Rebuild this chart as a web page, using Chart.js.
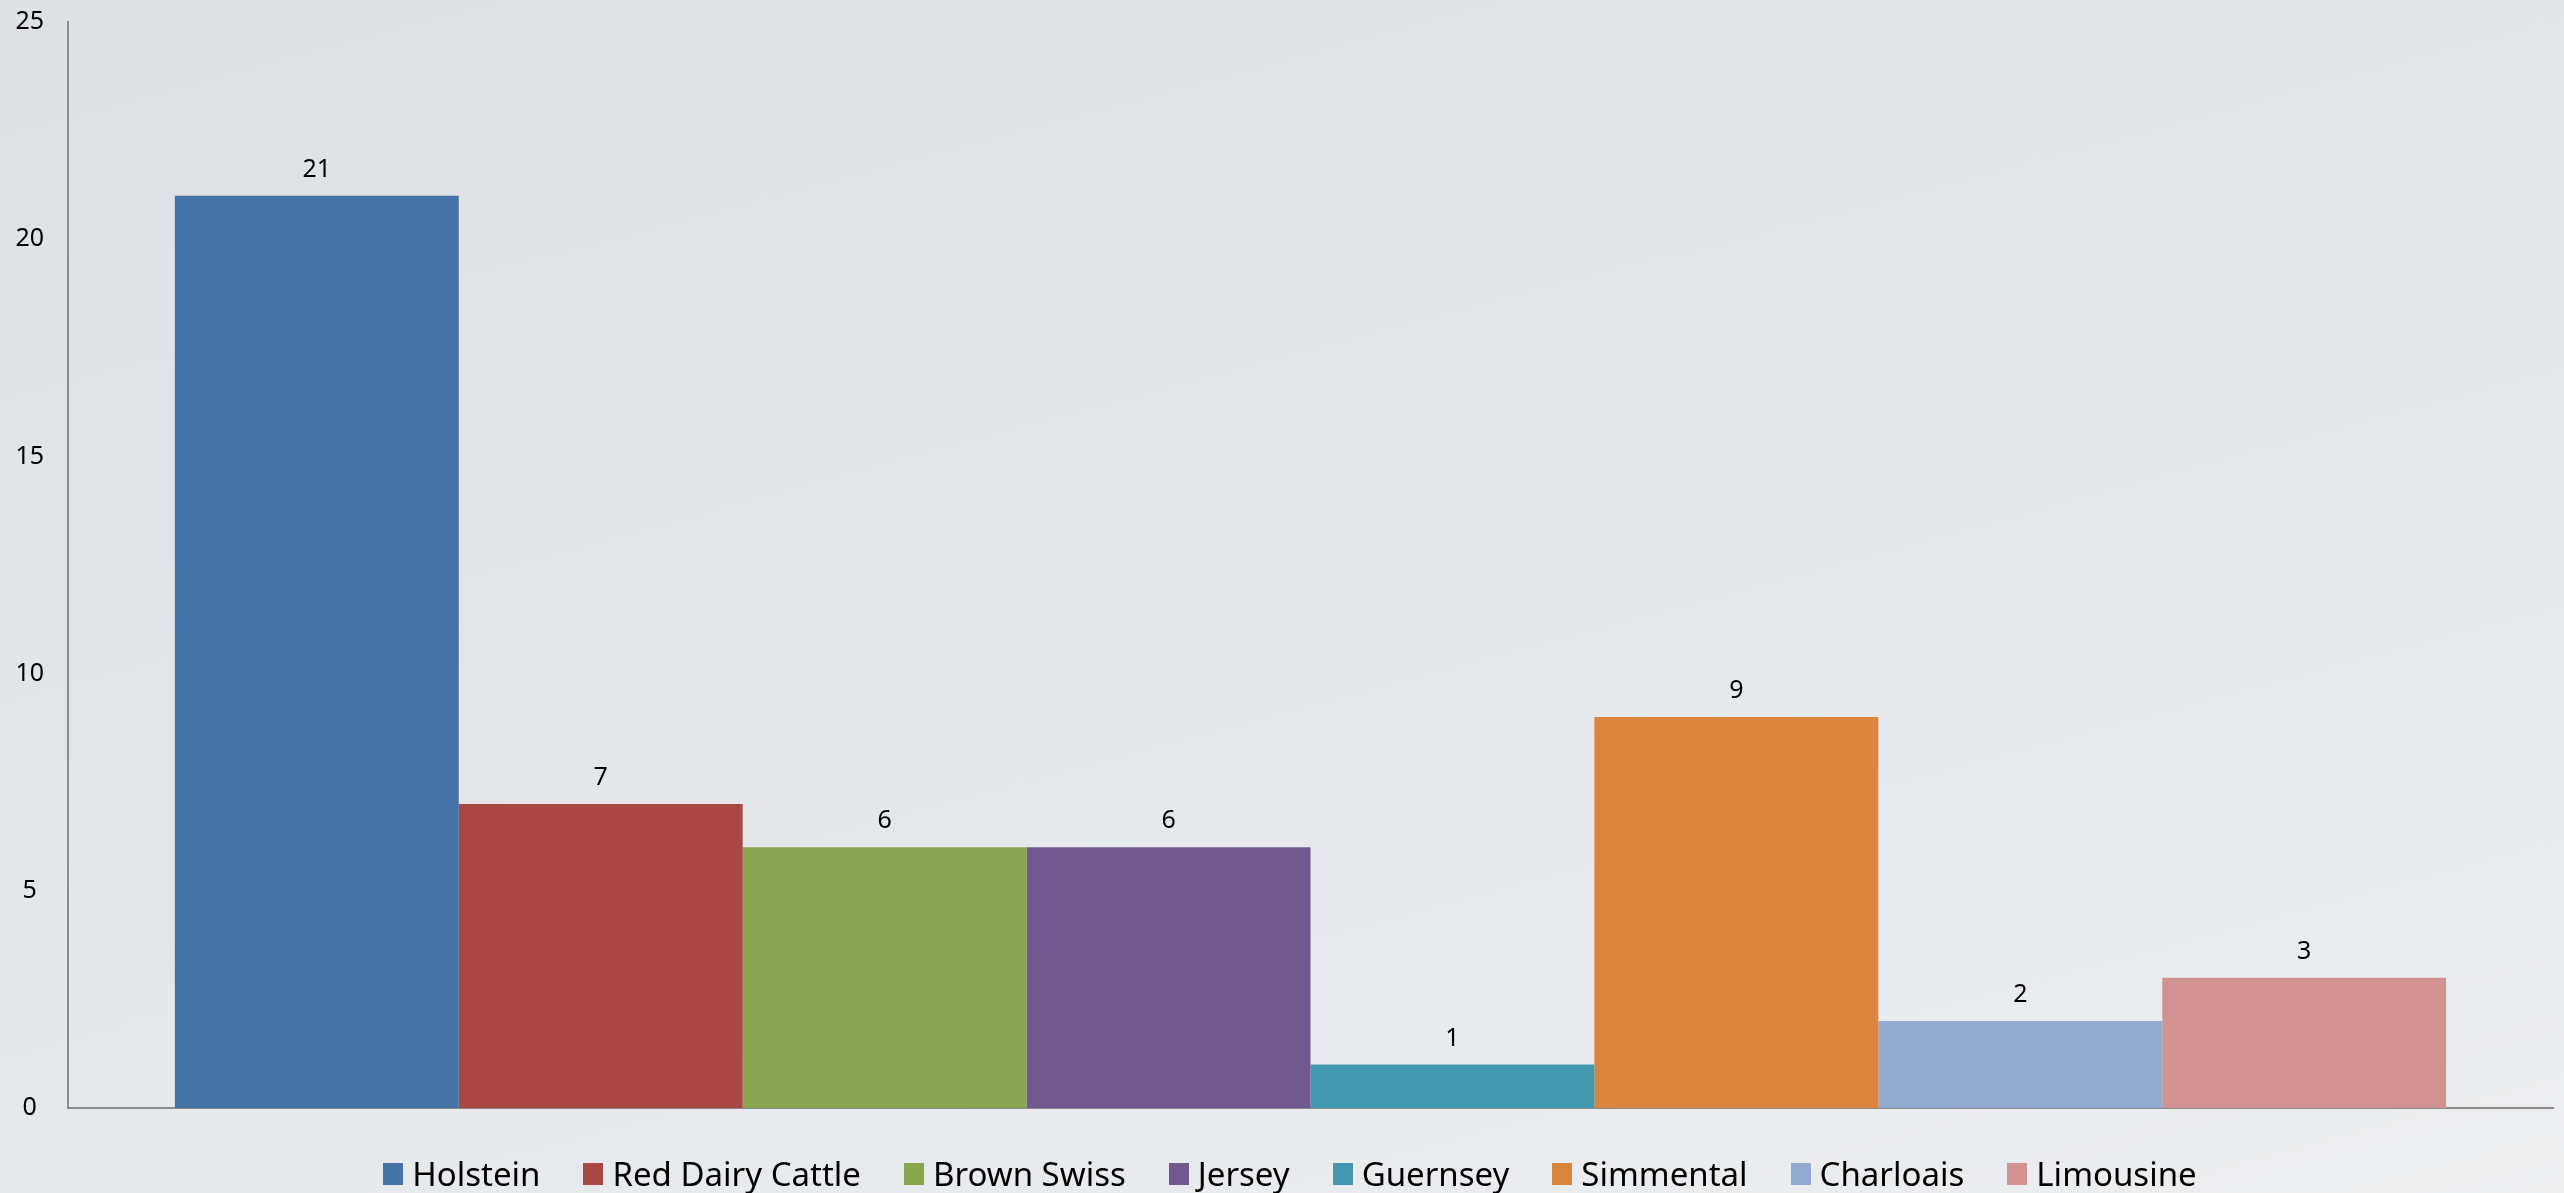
<!DOCTYPE html>
<html>
<head>
<meta charset="utf-8">
<script src="https://cdn.jsdelivr.net/npm/chart.js@4.4.1/dist/chart.umd.min.js"></script>
<style>
  html, body { margin: 0; padding: 0; }
  body {
    width: 2564px;
    height: 1193px;
    overflow: hidden;
    background: linear-gradient(165deg, #dde1e6 0%, #e4e7ea 50%, #eceef0 100%);
    font-family: "Noto Sans", sans-serif;
  }
  #wrap { position: relative; width: 2564px; height: 1193px; }
  .custom_bar_legend {
    position: absolute;
    left: 16px;
    right: 0;
    top: 1152px;
    display: flex;
    justify-content: center;
    gap: 43px;
    font-size: 33px;
    line-height: 44px;
    color: #000;
  }
  .bar_legend { display: flex; align-items: center; }
  .bar_legend .dot { width: 20px; height: 22px; margin-right: 9px; }
</style>
</head>
<body>
<div id="wrap">
  <canvas id="bar_chart" width="2564" height="1193"></canvas>
  <div class="custom_bar_legend"></div>
</div>
<script>
const breeds = [
  "Holstein",
  "Red Dairy Cattle",
  "Brown Swiss",
  "Jersey",
  "Guernsey",
  "Simmental",
  "Charloais",
  "Limousine",
];
const counts = [21, 7, 6, 6, 1, 9, 2, 3];
const colors = [
  "#4572a7",
  "#aa4643",
  "#89a54e",
  "#71588f",
  "#4198af",
  "#db843d",
  "#93a9cf",
  "#d19392",
];
const yTicks = [0, 5, 10, 15, 20, 25];

// value above each bar
const valueLabels = {
  id: "valueLabels",
  afterDatasetsDraw(chart) {
    const { ctx } = chart;
    ctx.save();
    ctx.font = '25px "Noto Sans"';
    ctx.fillStyle = "#000";
    ctx.textAlign = "center";
    ctx.textBaseline = "alphabetic";
    chart.data.datasets.forEach((ds, i) => {
      chart.getDatasetMeta(i).data.forEach((bar, j) => {
        ctx.fillText(ds.data[j], bar.x, bar.y - 19);
      });
    });
    ctx.restore();
  },
};

const ctx = document.getElementById("bar_chart");

const bar_chart = new Chart(ctx, {
  type: "bar",
  data: {
    labels: [""],
    datasets: breeds.map((name, i) => ({
      label: name,
      data: [counts[i]],
      backgroundColor: colors[i],
      borderWidth: 0,
      categoryPercentage: 0.914,
      barPercentage: 1,
    })),
  },
  options: {
    responsive: false,
    animation: false,
    layout: { padding: { top: 22, right: 11, bottom: 85, left: 0 } },
    plugins: {
      legend: { display: false }, // custom legend below
      tooltip: { enabled: false },
    },
    scales: {
      x: {
        grid: { display: false, drawTicks: false },
        border: { display: true, color: "#8c8c8c", width: 2 },
        ticks: { display: false },
        afterFit: (scale) => { scale.height = 0; },
      },
      y: {
        min: 0,
        max: 25,
        afterBuildTicks: (scale) => {
          scale.ticks = yTicks.map((v) => ({ value: v }));
        },
        grid: { display: false, drawTicks: false },
        border: { display: true, color: "#8c8c8c", width: 2 },
        ticks: {
          padding: 24,
          crossAlign: "center",
          color: "#000",
          font: { family: "Noto Sans", size: 25 },
        },
        afterFit: (scale) => {
          scale.width = 68;
          scale.paddingTop = 0;
          scale.paddingBottom = 0;
        },
      },
    },
  },
  plugins: [valueLabels],
});

const legendBox = document.querySelector(".custom_bar_legend");
breeds.forEach((name, i) => {
  const item = document.createElement("div");
  item.className = "bar_legend";
  const dot = document.createElement("span");
  dot.className = "dot";
  dot.style.background = colors[i];
  const text = document.createElement("span");
  text.textContent = name;
  item.appendChild(dot);
  item.appendChild(text);
  legendBox.appendChild(item);
});
</script>
</body>
</html>
